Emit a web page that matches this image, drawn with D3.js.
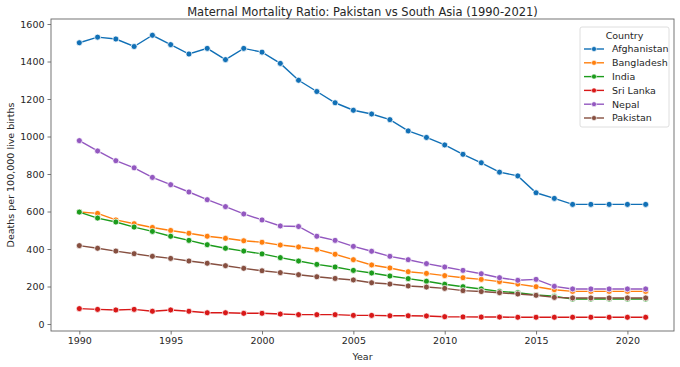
<!DOCTYPE html>
<html>
<head>
<meta charset="utf-8">
<script src="https://cdn.jsdelivr.net/npm/d3@7"></script>
<style>
  body { margin: 0; background: #fff; }
  text { font-family: "DejaVu Sans", sans-serif; fill: #262626; }
</style>
</head>
<body>
<svg id="chart" width="680" height="367"></svg>
<script>
const years = d3.range(1990, 2022);

const countries = ["Afghanistan", "Bangladesh", "India", "Sri Lanka", "Nepal", "Pakistan"];
const colors = ["#1170b6", "#ff7f0e", "#1c9c1c", "#d81818", "#9358c0", "#864f40"];

const afghanistan = [1500, 1530, 1520, 1480, 1540, 1490, 1440, 1470, 1410, 1470,
  1450, 1390, 1300, 1240, 1180, 1140, 1120, 1090, 1030, 995,
  955, 905, 860, 810, 790, 700, 670, 638, 638, 638, 638, 638];
const bangladesh = [597, 590, 555, 535, 515, 499, 484, 468, 457, 444,
  436, 421, 411, 398, 372, 343, 315, 299, 279, 270,
  258, 247, 238, 226, 213, 199, 183, 174, 174, 174, 174, 174];
const india = [597, 565, 544, 517, 494, 468, 446, 423, 404, 389,
  374, 354, 336, 318, 304, 286, 272, 256, 242, 228,
  212, 199, 187, 174, 167, 155, 148, 133, 133, 133, 133, 133];
const sriLanka = [82, 78, 75, 78, 68, 75, 68, 60, 60, 57,
  57, 53, 50, 50, 50, 46, 46, 44, 44, 43,
  39, 38, 37, 37, 36, 36, 36, 36, 36, 36, 36, 36];
const nepal = [978, 923, 871, 833, 782, 743, 704, 663, 626, 587,
  555, 523, 520, 468, 446, 414, 388, 361, 343, 322,
  304, 286, 268, 247, 233, 238, 201, 187, 187, 187, 187, 187];
const pakistan = [418, 404, 389, 375, 361, 350, 336, 324, 311, 297,
  284, 274, 263, 252, 243, 235, 220, 213, 203, 197,
  190, 178, 173, 167, 160, 153, 142, 139, 139, 139, 139, 139];

const yTicks = [0, 200, 400, 600, 800, 1000, 1200, 1400, 1600];
const xTicks = [1990, 1995, 2000, 2005, 2010, 2015, 2020];

const seriesValues = [afghanistan, bangladesh, india, sriLanka, nepal, pakistan];
const series = countries.map((name, i) => ({
  name: name,
  color: colors[i],
  points: years.map((yr, j) => ({ year: yr, value: seriesValues[i][j] }))
}));

const margin = { top: 19, right: 6, bottom: 36, left: 51 };
const width = 680 - margin.left - margin.right;
const height = 367 - margin.top - margin.bottom;

const svg = d3.select("#chart");
const g = svg.append("g").attr("transform", `translate(${margin.left},${margin.top})`);

const x = d3.scaleLinear().domain([1988.45, 2022.55]).range([0, width]);
const y = d3.scaleLinear().domain([-37.3, 1626.7]).range([height, 0]);

// axes
const xAxis = g.append("g")
  .attr("transform", `translate(0,${height})`)
  .call(d3.axisBottom(x).tickValues(xTicks).tickFormat(d3.format("d")).tickSize(3.5).tickPadding(3));
const yAxis = g.append("g")
  .call(d3.axisLeft(y).tickValues(yTicks).tickFormat(d3.format("d")).tickSize(3.5).tickPadding(3));

[xAxis, yAxis].forEach(a => {
  a.select(".domain").remove();
  a.selectAll("line").attr("stroke", "#555").attr("stroke-width", 0.8);
  a.selectAll("text").style("font-size", "9.5px").attr("fill", "#262626");
});

// frame
g.append("rect")
  .attr("width", width)
  .attr("height", height)
  .attr("fill", "none")
  .attr("stroke", "#666")
  .attr("stroke-width", 0.9);

const line = d3.line().x(d => x(d.year)).y(d => y(d.value));

const groups = g.selectAll(".series").data(series).enter().append("g").attr("class", "series");
groups.append("path")
  .attr("d", d => line(d.points))
  .attr("fill", "none")
  .attr("stroke", d => d.color)
  .attr("stroke-width", 1.4);
groups.each(function(s) {
  d3.select(this).selectAll("circle").data(s.points).enter().append("circle")
    .attr("cx", d => x(d.year))
    .attr("cy", d => y(d.value))
    .attr("r", 3)
    .attr("fill", s.color)
    .attr("stroke", "#fff")
    .attr("stroke-width", 0.75);
});

// title and labels
svg.append("text")
  .attr("x", margin.left + width / 2)
  .attr("y", 16)
  .attr("text-anchor", "middle")
  .style("font-size", "11.5px")
  .text("Maternal Mortality Ratio: Pakistan vs South Asia (1990-2021)");

svg.append("text")
  .attr("x", margin.left + width / 2)
  .attr("y", 360)
  .attr("text-anchor", "middle")
  .style("font-size", "9.5px")
  .text("Year");

svg.append("text")
  .attr("transform", `translate(14,${margin.top + height / 2}) rotate(-90)`)
  .attr("text-anchor", "middle")
  .style("font-size", "9.5px")
  .text("Deaths per 100,000 live births");

// legend
const legend = svg.append("g").attr("transform", "translate(580,27)");
legend.append("rect")
  .attr("width", 89)
  .attr("height", 100)
  .attr("rx", 2)
  .attr("fill", "#fff")
  .attr("fill-opacity", 0.8)
  .attr("stroke", "#d6d6d6")
  .attr("stroke-width", 0.8);
legend.append("text")
  .attr("x", 44.5)
  .attr("y", 12)
  .attr("text-anchor", "middle")
  .style("font-size", "9.5px")
  .text("Country");
const items = legend.selectAll(".item").data(series).enter().append("g")
  .attr("transform", (d, i) => `translate(0,${22 + i * 13.8})`);
items.append("line")
  .attr("x1", 4).attr("x2", 24)
  .attr("stroke", d => d.color)
  .attr("stroke-width", 1.4);
items.append("circle")
  .attr("cx", 14).attr("r", 2.5)
  .attr("fill", d => d.color)
  .attr("stroke", "#fff")
  .attr("stroke-width", 0.6);
items.append("text")
  .attr("x", 32)
  .attr("dy", "0.35em")
  .style("font-size", "9.5px")
  .text(d => d.name);
</script>
</body>
</html>
